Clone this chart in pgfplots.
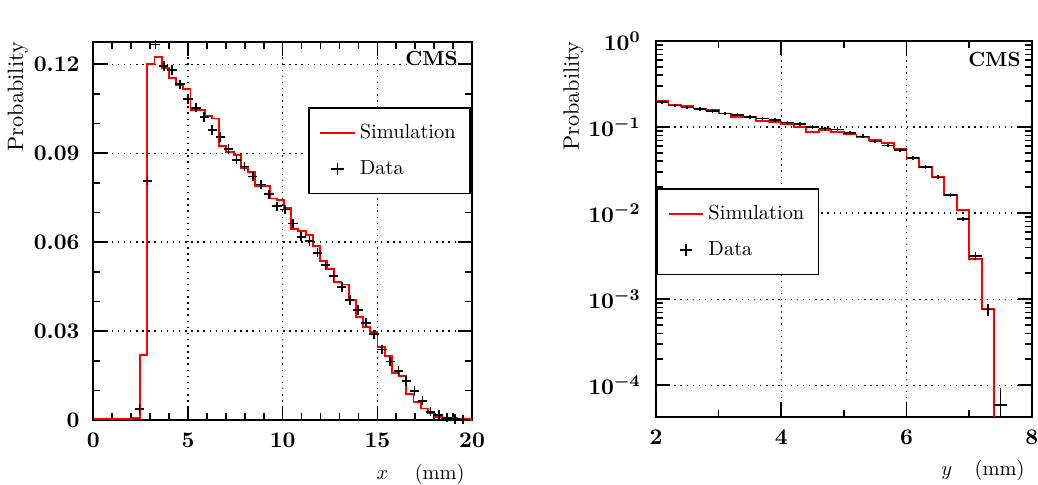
\documentclass[border=0pt]{standalone}
\usepackage{pgfplots}
\pgfplotsset{compat=1.18}
\definecolor{simred}{RGB}{255,0,0}
\pgfplotsset{
  cmsaxis/.style={
    scale only axis,
    anchor=south west,
    tick align=inside,
    major tick length=7pt,
    minor tick length=3.5pt,
    every tick/.style={black, line width=0.8pt},
    axis line style={line width=0.9pt},
    grid=major,
    major grid style={black, line width=0.6pt, dash pattern=on 0.7pt off 2.3pt},
    tick label style={font=\fontsize{11}{13}\selectfont\bfseries\boldmath},
    xticklabel style={yshift=-3.0pt},
    legend cell align=left,
    clip=true,
  }
}
\begin{document}
\begin{tikzpicture}
\path[use as bounding box] (0,0) rectangle (508.6pt,237.2pt);
% ---------------- left panel ----------------
\begin{axis}[cmsaxis,
  at={(45.7pt,31.4pt)},
  width=185.6pt, height=185.4pt,
  xmin=0, xmax=20, ymin=0, ymax=0.1276,
  xtick={0,5,10,15,20}, minor x tick num=4,
  ytick={0,0.03,0.06,0.09,0.12}, yticklabels={$0$,$0.03$,$0.06$,$0.09$,$0.12$},
  minor y tick num=2,
  yticklabel style={xshift=-3.2pt},
  xlabel={$x$\hspace{13pt}(mm)}, ylabel={Probability},
  every axis x label/.style={at={(rel axis cs:0.9815,0)}, anchor=base east, inner sep=0pt, yshift=-29pt},
  every axis y label/.style={at={(rel axis cs:-0.185,1)}, anchor=base east, rotate=90, inner sep=0pt, font=\fontsize{10.9}{13}\selectfont},
  legend style={at={(rel axis cs:0.9966,0.8266)}, anchor=north east, draw=black, line width=0.8pt,
    inner xsep=5pt, inner ysep=6pt, row sep=5pt, font=\normalsize},
]
\addlegendimage{simred, line width=0.9pt}
\addlegendentry{Simulation}
\addlegendimage{black, only marks, mark=+, mark size=3pt, line width=0.8pt}
\addlegendentry{Data}
\addplot[simred, line width=0.9pt, const plot, forget plot] coordinates {
(0,0.0002) (2.09,0.0008) (2.47,0.022) (2.85,0.1200) (3.23,0.1225) (3.61,0.1186)
(3.99,0.1154) (4.37,0.1129) (4.75,0.1116) (5.13,0.1045) (5.51,0.1045) (5.89,0.1026)
(6.27,0.1017) (6.65,0.0923) (7.03,0.0904) (7.41,0.0893) (7.79,0.0850) (8.17,0.0835)
(8.55,0.0789) (8.93,0.0790) (9.31,0.0747) (9.69,0.0742) (10.07,0.0714) (10.45,0.0643)
(10.83,0.0638) (11.21,0.0624) (11.59,0.0587) (11.97,0.0535) (12.35,0.0508) (12.73,0.0465)
(13.11,0.0457) (13.49,0.0405) (13.87,0.0348) (14.25,0.0315) (14.63,0.0298) (15.01,0.0247)
(15.39,0.0216) (15.77,0.0159) (16.15,0.0148) (16.53,0.0088) (16.91,0.0062) (17.29,0.0039)
(17.67,0.0022) (18.05,0.0011) (18.43,0.0008) (18.81,0.0006) (19.19,0.0003) (19.57,0.0002)
(19.95,0.0001) (20,0.0001)
};
\addplot[black, only marks, mark=+, mark size=2.3pt, line width=0.85pt, forget plot] coordinates {
(2.44,0.0037) (2.87,0.0807) (3.29,0.1266) (3.72,0.1194) (4.15,0.1180) (4.58,0.1132)
(5.00,0.1082) (5.43,0.1053) (5.86,0.1022) (6.28,0.0978) (6.71,0.0955) (7.14,0.0915)
(7.56,0.0878) (7.99,0.0855) (8.42,0.0821) (8.85,0.0794) (9.27,0.0761) (9.70,0.0721)
(10.13,0.0710) (10.55,0.0663) (10.98,0.0618) (11.41,0.0604) (11.84,0.0564) (12.26,0.0522)
(12.69,0.0485) (13.12,0.0449) (13.54,0.0405) (13.97,0.0371) (14.40,0.0328) (14.82,0.0289)
(15.25,0.0238) (15.68,0.0197) (16.11,0.0165) (16.53,0.0131) (16.96,0.0098) (17.39,0.0065)
(17.81,0.0028) (18.24,0.0017) (18.67,0.0008) (19.09,0.0004) (19.52,0.0002)
};
\node[anchor=base east, inner sep=0pt, yshift=7.7pt] at (rel axis cs:0.986,1) {2018 (13 TeV)};
\node[anchor=base east, inner sep=0pt, font=\bfseries] at (rel axis cs:0.963,0.936) {CMS};
\end{axis}
% ---------------- right panel ----------------
\begin{axis}[cmsaxis,
  at={(321.4pt,33.0pt)},
  width=184.2pt, height=184.1pt,
  xmin=2, xmax=8, ymode=log, ymin=4.3e-5, ymax=1,
  xtick={2,4,6,8}, minor x tick num=1,
  ytick={1e-4,1e-3,1e-2,1e-1,1},
  yticklabel style={xshift=-4.0pt},
  xlabel={$y$\hspace{11pt}(mm)}, ylabel={Probability},
  every axis x label/.style={at={(rel axis cs:0.9814,0)}, anchor=base east, inner sep=0pt, yshift=-29pt},
  every axis y label/.style={at={(rel axis cs:-0.205,1)}, anchor=base east, rotate=90, inner sep=0pt, font=\fontsize{10.9}{13}\selectfont},
  legend style={at={(rel axis cs:0.002,0.608)}, anchor=north west, draw=black, line width=0.8pt,
    inner xsep=5pt, inner ysep=6pt, row sep=5pt, font=\normalsize},
]
\addlegendimage{simred, line width=0.9pt}
\addlegendentry{Simulation}
\addlegendimage{black, only marks, mark=+, mark size=3pt, line width=0.8pt}
\addlegendentry{Data}
\addplot[simred, line width=0.9pt, const plot, forget plot] coordinates {
(2.0,0.204) (2.2,0.180) (2.4,0.174) (2.6,0.164) (2.8,0.158) (3.0,0.144) (3.2,0.130)
(3.4,0.130) (3.6,0.118) (3.8,0.114) (4.0,0.109) (4.2,0.101) (4.4,0.088) (4.6,0.093)
(4.8,0.088) (5.0,0.082) (5.2,0.0765) (5.4,0.0711) (5.6,0.0652) (5.8,0.0564) (6.0,0.0435)
(6.2,0.0343) (6.4,0.0262) (6.6,0.0163) (6.8,0.0108) (7.0,0.00294) (7.2,0.000765)
(7.4,0.000001)
};
\addplot[draw=none, mark=none, forget plot,
  error bars/.cd, x dir=both, x explicit, y dir=both, y explicit,
  error bar style={draw=black, line width=0.8pt, solid}, error mark=none]
  table[x=x, y=y, x error=ex, y error=ey] {
x y ex ey
2.1 0.195 0.1 0.01
2.3 0.178 0.1 0.009
2.5 0.169 0.1 0.008
2.7 0.162 0.1 0.008
2.9 0.155 0.1 0.008
3.1 0.144 0.1 0.007
3.3 0.138 0.1 0.007
3.5 0.132 0.1 0.007
3.7 0.126 0.1 0.006
3.9 0.121 0.1 0.006
4.1 0.113 0.1 0.006
4.3 0.109 0.1 0.005
4.5 0.101 0.1 0.005
4.7 0.096 0.1 0.005
4.9 0.094 0.1 0.005
5.1 0.086 0.1 0.004
5.3 0.078 0.1 0.004
5.5 0.068 0.1 0.0035
5.7 0.061 0.1 0.003
5.9 0.0545 0.1 0.0028
6.1 0.044 0.1 0.0022
6.3 0.0346 0.1 0.0018
6.5 0.026 0.1 0.0014
6.7 0.0163 0.1 0.0009
6.9 0.0086 0.1 0.0005
7.1 0.00318 0.1 0.00035
7.3 0.00076 0.1 0.00013
7.5 0.000059 0.1 0.000034
};
\node[anchor=base east, inner sep=0pt, yshift=7.7pt] at (rel axis cs:0.989,1) {2018 (13 TeV)};
\node[anchor=base east, inner sep=0pt, font=\bfseries] at (rel axis cs:0.971,0.933) {CMS};
\end{axis}
\end{tikzpicture}
\end{document}
